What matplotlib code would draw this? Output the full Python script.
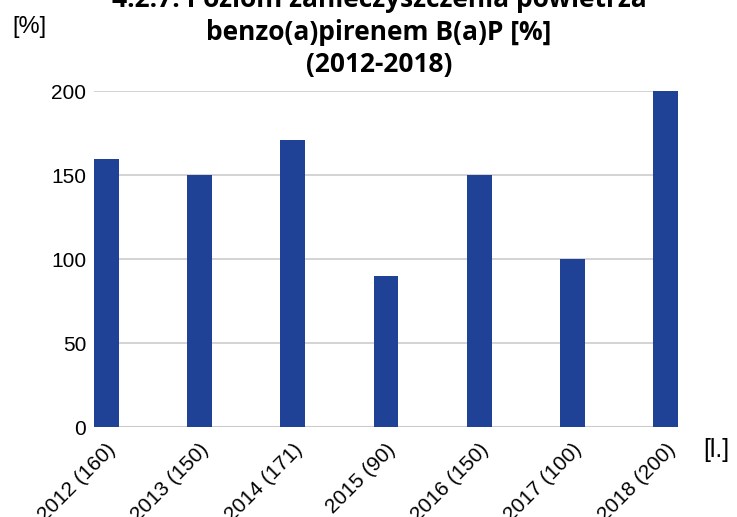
import numpy as np
import matplotlib.pyplot as plt

# pollution level of benzo(a)pyrene, yearly values
years = ['2012', '2013', '2014', '2015', '2016', '2017', '2018']
values = [160, 150, 171, 90, 150, 100, 200]
labels = ['%s (%d)' % (y, v) for y, v in zip(years, values)]
title_lines = ['4.2.7. Poziom zanieczyszczenia powietrza',
               'benzo(a)pirenem B(a)P [%]',
               '(2012-2018)']

bar_color = '#1f4196'
w = 0.265

fig = plt.figure(figsize=(7.37, 5.17), dpi=100)
ax = fig.add_axes([94 / 737, 1 - 427.3 / 517, 584 / 737, 336 / 517])

x = np.arange(len(values))
ax.bar(x, values, width=w, color=bar_color, zorder=3)
ax.set_xlim(-w / 2, len(values) - 1 + w / 2)
ax.set_ylim(0, 200)
ax.set_yticks([0, 50, 100, 150, 200])
ax.yaxis.grid(True, color='#cccccc', linewidth=1.2, zorder=0)
for s in ax.spines.values():
    s.set_visible(False)
ax.axhline(0, color='#cccccc', linewidth=1.5, zorder=2)
ax.tick_params(axis='y', length=0, labelsize=15, pad=5.5)
ax.set_xticks(x)
ax.set_xticklabels(labels, rotation=45, ha='right', va='top',
                   rotation_mode='anchor', fontsize=15)
ax.tick_params(axis='x', length=0, pad=9)
for t in ax.get_xticklabels() + ax.get_yticklabels():
    t.set_family('Liberation Sans')

fig.text(12 / 737, 1 - 27 / 517, '[%]', fontsize=17, family='Liberation Sans',
         va='center', ha='left')
fig.text(703 / 737, 1 - 450 / 517, '[l.]', fontsize=18, family='Liberation Sans',
         va='center', ha='left')

for i, line in enumerate(title_lines):
    fig.text(379 / 737, 1 - (7 + 32.5 * i) / 517, line, fontsize=19,
             fontweight='bold', family='Open Sans', ha='center', va='baseline')

fig.savefig('out.png', dpi=100)
